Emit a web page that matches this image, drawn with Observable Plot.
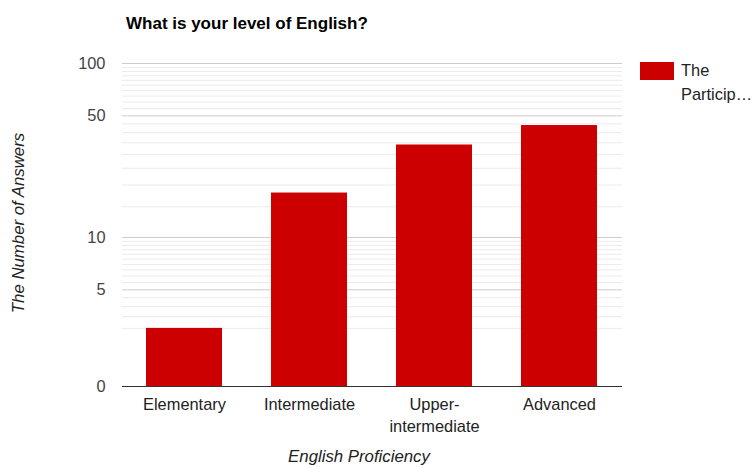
<!DOCTYPE html>
<html>
<head>
<meta charset="utf-8">
<script src="https://cdn.jsdelivr.net/npm/d3@7"></script>
<script src="https://cdn.jsdelivr.net/npm/@observablehq/plot@0.6"></script>
<style>
  html, body { margin: 0; padding: 0; background: #fff; }
  #wrap { position: relative; width: 753px; height: 467px; overflow: hidden; font-family: Arial, "Liberation Sans", sans-serif; }
  #wrap svg { position: absolute; left: 0; top: 0; }
  .t { position: absolute; line-height: 1; white-space: nowrap; }
</style>
</head>
<body>
<div id="wrap">
  <div class="t" id="title" style="left:126px; top:14.9px; font-size:17px; font-weight:bold; color:#000;">What is your level of English?</div>
  <div class="t" id="ytitle" style="left:19px; top:222.5px; font-size:16.8px; font-style:italic; color:#222; transform: translate(-50%,-50%) rotate(-90deg);">The Number of Answers</div>
  <div class="t" id="xtitle" style="left:359px; top:449px; font-size:16.8px; font-style:italic; color:#222; transform: translateX(-50%);">English Proficiency</div>
  <div id="swatch" style="position:absolute; left:640px; top:62px; width:34px; height:18px; background:#cc0000;"></div>
  <div class="t" style="left:681px; top:62.1px; font-size:16.4px; color:#222;">The</div>
  <div class="t" style="left:681px; top:85.6px; font-size:16.4px; color:#222;">Particip…</div>
</div>
<script>
const categories = ["Elementary", "Intermediate", "Upper-\nintermediate", "Advanced"];
const answers = [3, 18, 34, 44];
const axisFloor = 1.39; // value at the baseline that the reference labels "0"
const yTickValues = [axisFloor, 5, 10, 50, 100];
const yTickLabels = ["0", "5", "10", "50", "100"];
const majorGrid = [5, 10, 50, 100];
const minorGrid = [3, 3.5, 4, 4.5, 5.5, 6, 6.5, 7, 7.5, 8, 8.5, 9, 9.5,
                   15, 20, 25, 30, 35, 40, 45, 55, 60, 65, 70, 75, 80, 85, 90, 95];

const data = categories.map((c, i) => ({level: c, count: answers[i]}));

const chart = Plot.plot({
  width: 753,
  height: 467,
  marginTop: 63,
  marginBottom: 81,
  marginLeft: 122,
  marginRight: 131,
  style: {fontFamily: "Arial, 'Liberation Sans', sans-serif", background: "transparent", overflow: "visible"},
  x: {domain: categories, paddingInner: 0.39, paddingOuter: 0.195, axis: null},
  y: {type: "log", domain: [axisFloor, 100], axis: null},
  marks: [
    Plot.ruleY(minorGrid, {stroke: "#ebebeb", strokeWidth: 1}),
    Plot.ruleY(majorGrid, {stroke: "#cccccc", strokeWidth: 1}),
    Plot.barY(data, {x: "level", y1: axisFloor, y2: "count", fill: "#cc0000"}),
    Plot.ruleY([axisFloor], {stroke: "#333333", strokeWidth: 1}),
    Plot.axisY(yTickValues, {
      tickSize: 0, tickPadding: 17, fontSize: 16.4, fill: "#444",
      tickFormat: d => yTickLabels[yTickValues.indexOf(d)], label: null
    }),
    Plot.axisX({
      tickSize: 0, tickPadding: 8, fontSize: 16.4, fill: "#222",
      lineHeight: 1.34, label: null
    })
  ]
});
document.getElementById("wrap").appendChild(chart);
</script>
</body>
</html>
